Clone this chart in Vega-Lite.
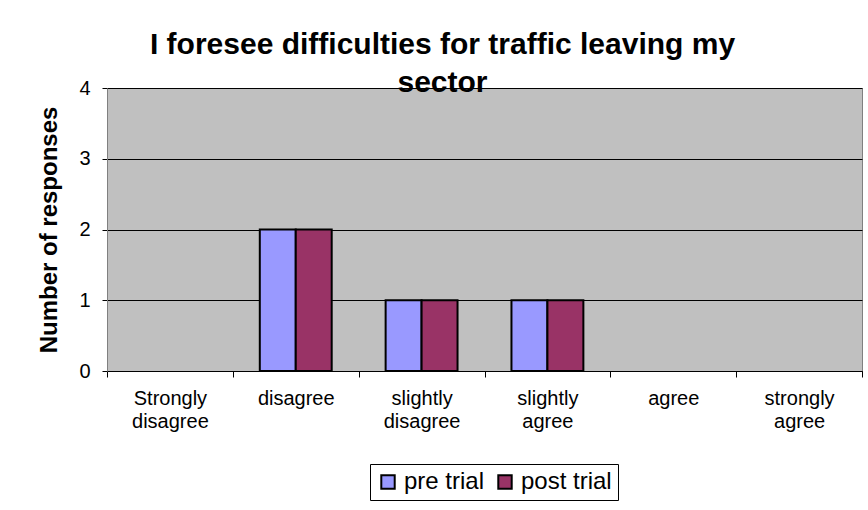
{
  "$schema": "https://vega.github.io/schema/vega-lite/v6.json",
  "width": 755,
  "height": 283,
  "autosize": {"type": "none"},
  "padding": {"left": 107, "top": 88, "right": 6, "bottom": 139},
  "background": "white",
  "title": {
    "text": ["I foresee difficulties for traffic leaving my", "sector"],
    "font": "Liberation Sans",
    "fontSize": 30,
    "fontWeight": "bold",
    "color": "black",
    "anchor": "middle",
    "frame": "group",
    "lineHeight": 38,
    "baseline": "bottom",
    "dx": -42,
    "dy": 42,
    "offset": -8
  },
  "data": {
    "values": [
      {"response": "Strongly disagree", "series": "pre trial", "count": 0},
      {"response": "Strongly disagree", "series": "post trial", "count": 0},
      {"response": "disagree", "series": "pre trial", "count": 2},
      {"response": "disagree", "series": "post trial", "count": 2},
      {"response": "slightly disagree", "series": "pre trial", "count": 1},
      {"response": "slightly disagree", "series": "post trial", "count": 1},
      {"response": "slightly agree", "series": "pre trial", "count": 1},
      {"response": "slightly agree", "series": "post trial", "count": 1},
      {"response": "agree", "series": "pre trial", "count": 0},
      {"response": "agree", "series": "post trial", "count": 0},
      {"response": "strongly agree", "series": "pre trial", "count": 0},
      {"response": "strongly agree", "series": "post trial", "count": 0}
    ]
  },
  "transform": [{"filter": "datum.count > 0"}],
  "mark": {"type": "bar", "stroke": "black", "strokeWidth": 2},
  "encoding": {
    "x": {
      "field": "response",
      "type": "nominal",
      "sort": ["Strongly disagree", "disagree", "slightly disagree", "slightly agree", "agree", "strongly agree"],
      "scale": {"domain": ["Strongly disagree", "disagree", "slightly disagree", "slightly agree", "agree", "strongly agree"], "paddingInner": 0, "paddingOuter": 0},
      "axis": {
        "title": null,
        "labelAngle": 0,
        "labelExpr": "split(datum.label, ' ')",
        "labelFont": "Liberation Sans",
        "labelFontSize": 20,
        "labelColor": "black",
        "labelLineHeight": 23,
        "labelPadding": 11,
        "labelBaseline": "top",
        "tickBand": "extent",
        "tickSize": 6,
        "tickColor": "black",
        "domainColor": "black",
        "domainWidth": 1,
        "grid": false
      }
    },
    "xOffset": {
      "field": "series",
      "type": "nominal",
      "sort": ["pre trial", "post trial"],
      "scale": {"domain": ["pre trial", "post trial"], "paddingInner": 0, "paddingOuter": 0.75}
    },
    "y": {
      "field": "count",
      "type": "quantitative",
      "scale": {"domain": [0, 4], "nice": false},
      "axis": {
        "title": "Number of responses",
        "titleFont": "Liberation Sans",
        "titleFontSize": 24,
        "titleFontWeight": "bold",
        "titleColor": "black",
        "titlePadding": 17,
        "values": [0, 1, 2, 3, 4],
        "format": "d",
        "labelFont": "Liberation Sans",
        "labelFontSize": 20,
        "labelColor": "black",
        "labelPadding": 12,
        "tickSize": 5,
        "tickColor": "black",
        "domainColor": "#808080",
        "grid": true,
        "gridColor": "black",
        "gridWidth": 1,
        "gridOpacity": 1
      }
    },
    "color": {
      "field": "series",
      "type": "nominal",
      "sort": ["pre trial", "post trial"],
      "scale": {"domain": ["pre trial", "post trial"], "range": ["#9999FF", "#993366"]},
      "legend": {
        "title": null,
        "orient": "none",
        "legendX": 263,
        "legendY": 376,
        "direction": "horizontal",
        "symbolType": "square",
        "symbolSize": 180,
        "symbolStrokeColor": "black",
        "symbolStrokeWidth": 2,
        "labelFont": "Liberation Sans",
        "labelFontSize": 24,
        "labelColor": "black",
        "labelOffset": 4,
        "columnPadding": 8,
        "strokeColor": "black",
        "padding": 6
      }
    }
  },
  "config": {
    "view": {"fill": "#C0C0C0", "stroke": "#808080", "strokeWidth": 1}
  }
}
